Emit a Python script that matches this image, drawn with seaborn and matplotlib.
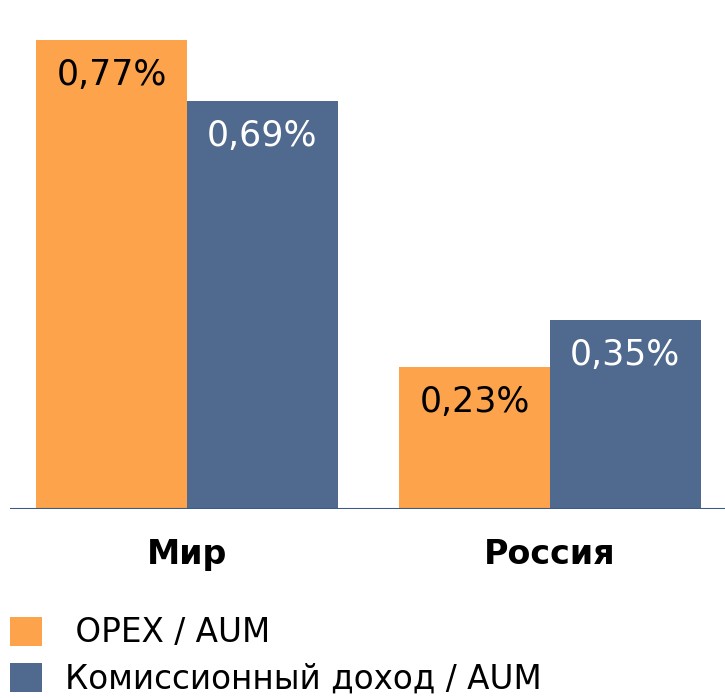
import pandas as pd
import matplotlib.pyplot as plt
import seaborn as sns
from matplotlib.patches import Patch

# Data
regions = ['Мир', 'Россия']
series = ['OPEX / AUM', 'Комиссионный доход / AUM']
opex = [0.77, 0.233]
fee = [0.67, 0.31]
opex_labels = ['0,77%', '0,23%']
fee_labels = ['0,69%', '0,35%']

colors = ['#FCA34B', '#50698E']

df = pd.DataFrame({
    'region': regions * 2,
    'series': [series[0]] * 2 + [series[1]] * 2,
    'value': opex + fee,
})

sns.set_theme(style='white')
plt.rcParams['font.family'] = ['DejaVu Sans']

fig = plt.figure(figsize=(7.25, 6.98), dpi=100)
ax = fig.add_axes([10 / 725, 189 / 698, 715 / 725, 509 / 698])

sns.barplot(data=df, x='region', y='value', hue='series', palette=colors,
            width=0.83, saturation=1, linewidth=0, ax=ax, legend=False)

ax.set_xlim(-0.4876, 1.482)
ax.set_ylim(0, 0.8357)

# value labels inside bar tops
labels = opex_labels + fee_labels
text_colors = ['black'] * 2 + ['white'] * 2
for bar, lab, tc in zip(ax.patches, labels, text_colors):
    ax.annotate(lab, (bar.get_x() + bar.get_width() / 2, bar.get_height()),
                xytext=(0, -25), textcoords='offset points',
                ha='center', va='center', fontsize=25, color=tc)

ax.axhline(0, color='#3B5A8A', lw=1.5)
sns.despine(ax=ax, left=True, bottom=True)
ax.set_yticks([])
ax.set_xlabel('')
ax.set_ylabel('')
ax.tick_params(axis='x', length=0, pad=21)
for t in ax.get_xticklabels():
    t.set_fontsize(24)
    t.set_fontweight('bold')
    t.set_color('black')

handles = [Patch(facecolor=c, linewidth=0) for c in colors]
fig.legend(handles, [' OPEX / AUM', 'Комиссионный доход / AUM'],
           loc='upper left', bbox_to_anchor=(10 / 725, 0.117), frameon=False,
           fontsize=23.5, handlelength=0.98, handleheight=0.98,
           handletextpad=0.7, labelspacing=0.42, borderaxespad=0,
           borderpad=0.0, labelcolor='black')

fig.savefig('out.png', dpi=100)
